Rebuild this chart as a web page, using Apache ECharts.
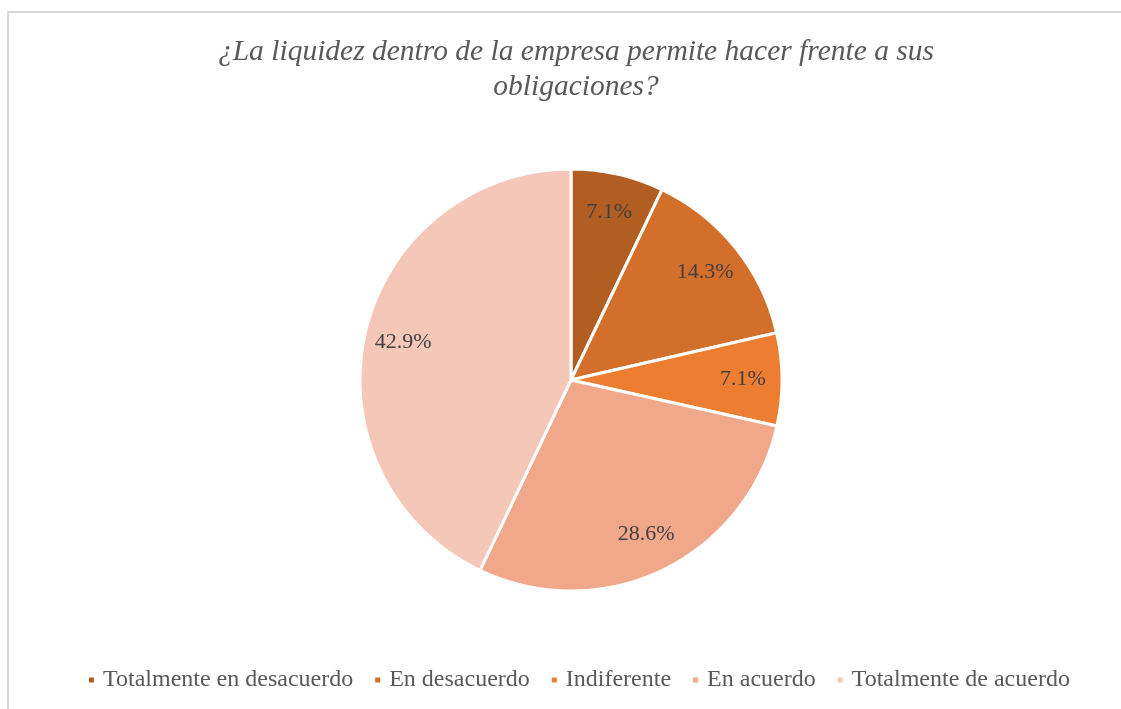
<!DOCTYPE html>
<html lang="es">
<head>
    <meta charset="UTF-8">
    <title>Liquidez</title>
    <script src="https://cdn.jsdelivr.net/npm/echarts@6/dist/echarts.min.js"></script>
    <style>
        html, body { margin: 0; padding: 0; background: #fff; }
        #frame {
            position: absolute; left: 7px; top: 11px; width: 1130px; height: 720px;
            border-left: 2px solid #D9D9D9; border-top: 2px solid #D9D9D9;
        }
        #chart { position: absolute; left: 0; top: 0; width: 1121px; height: 709px; }
    </style>
</head>
<body>
    <div id="frame"></div>
    <div id="chart"></div>
    <script>
        // datos
        const categorias = ['Totalmente en desacuerdo', 'En desacuerdo', 'Indiferente', 'En acuerdo', 'Totalmente de acuerdo'];
        const porcentajes = [7.1, 14.3, 7.1, 28.6, 42.9];
        const colores = ['#B25D22', '#D36E2B', '#ED7D31', '#F0A78A', '#F4C7B8'];

        const fuente = "'Liberation Serif', 'Times New Roman', serif";
        const datos = categorias.map((c, i) => ({ name: c, value: porcentajes[i], itemStyle: { color: colores[i] } }));

        const chart = echarts.init(document.getElementById('chart'));
        chart.setOption({
            animation: false,
            title: {
                text: '¿La liquidez dentro de la empresa permite hacer frente a sus\nobligaciones?',
                left: 571,
                top: 30,
                textAlign: 'center',
                textStyle: { fontFamily: fuente, fontStyle: 'italic', fontWeight: 'normal', fontSize: 29.5, lineHeight: 35, color: '#595959' }
            },
            legend: {
                data: categorias,
                bottom: 12,
                left: 82,
                icon: 'rect',
                itemWidth: 7,
                itemHeight: 7,
                itemGap: 20,
                textStyle: { fontFamily: fuente, fontSize: 24, color: '#595959', padding: [0, 0, 0, 3] }
            },
            series: [
                {
                    type: 'pie',
                    center: [571, 380],
                    radius: 211,
                    startAngle: 90,
                    data: datos,
                    label: { show: false },
                    labelLine: { show: false },
                    itemStyle: { borderColor: '#fff', borderWidth: 3 },
                    emphasis: { disabled: true }
                },
                {
                    // capa solo para etiquetas
                    type: 'pie',
                    center: [571, 380],
                    radius: [127, 211],
                    startAngle: 90,
                    silent: true,
                    data: datos.map(d => ({ name: d.name, value: d.value })),
                    itemStyle: { color: 'rgba(0,0,0,0)' },
                    label: {
                        show: true,
                        position: 'inside',
                        formatter: p => p.value.toFixed(1) + '%',
                        fontFamily: fuente,
                        fontSize: 22,
                        color: '#404040'
                    },
                    labelLine: { show: false },
                    emphasis: { disabled: true }
                }
            ]
        });
    </script>
</body>
</html>
